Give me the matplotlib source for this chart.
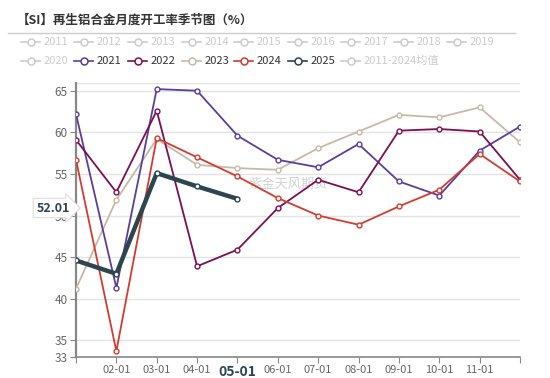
import matplotlib.pyplot as plt
from matplotlib.lines import Line2D

plt.rcParams['font.family'] = ['Noto Sans CJK SC', 'DejaVu Sans']

# data
months = ['01-01', '02-01', '03-01', '04-01', '05-01', '06-01',
          '07-01', '08-01', '09-01', '10-01', '11-01', '12-01']
y2021 = [62.2, 41.3, 65.2, 65.0, 59.6, 56.7, 55.8, 58.6, 54.1, 52.4, 57.8, 60.7]
y2022 = [59.1, 52.8, 62.6, 43.9, 45.9, 50.9, 54.3, 52.8, 60.2, 60.4, 60.1, 54.3]
y2023 = [41.2, 51.9, 59.2, 56.1, 55.7, 55.5, 58.1, 60.1, 62.1, 61.8, 63.0, 58.8]
y2024 = [56.7, 33.7, 59.3, 57.0, 54.7, 52.1, 50.0, 48.9, 51.1, 53.1, 57.4, 54.1]
y2025 = [44.6, 43.0, 55.1, 53.5, 52.01]
yticks = [33, 35, 40, 45, 50, 55, 60, 65]

legend_row1 = ['2011', '2012', '2013', '2014', '2015', '2016', '2017', '2018', '2019']
legend_row2 = ['2020', '2021', '2022', '2023', '2024', '2025', '2011-2024均值']

colors = {'2021': '#5a3e9c', '2022': '#7b0f52', '2023': '#c8b9a6',
          '2024': '#d43a2f', '2025': '#2c4550'}
inactive = '#cccccc'

W, H = 550, 378
fig = plt.figure(figsize=(W / 100, H / 100), dpi=100)

def fx(px):
    return px / W

def fy(py):
    return 1 - py / H

ax = fig.add_axes([fx(76), fy(357), fx(520) - fx(76), fy(83) - fy(357)])

x = list(range(12))
series = [('2023', y2023), ('2021', y2021), ('2022', y2022), ('2024', y2024)]
for name, vals in series:
    ax.plot(x[:len(vals)], vals, color=colors[name], lw=1.3, marker='o',
            markersize=3.5, markerfacecolor='white', markeredgecolor=colors[name],
            markeredgewidth=1, zorder=3)
ax.plot(x[:len(y2025)], y2025, color=colors['2025'], lw=3.2, marker='o',
        markersize=3.5, markerfacecolor='white', markeredgecolor=colors['2025'],
        markeredgewidth=1, zorder=4)

ax.set_xlim(0, 11)
ax.set_ylim(33, 65.93)
ax.set_yticks(yticks)
ax.set_yticklabels([str(v) for v in yticks])
ax.set_xticks(x)
labels = ['' if i in (0, 11) else m for i, m in enumerate(months)]
ax.set_xticklabels(labels)
for i, lab in enumerate(ax.get_xticklabels()):
    if i == 4:
        lab.set_fontweight('bold')
        lab.set_color('#2c4550')
        lab.set_fontsize(10)
    else:
        lab.set_color('#666666')
        lab.set_fontsize(8)
for lab in ax.get_yticklabels():
    lab.set_color('#666666')
    lab.set_fontsize(8.5)

for v in yticks[1:] + [65.93]:
    ax.axhline(v, color='#e3e3e3', lw=1, zorder=0)

for s in ['top', 'right']:
    ax.spines[s].set_visible(False)
ax.spines['left'].set_color('#888888')
ax.spines['left'].set_linewidth(1.6)
ax.spines['bottom'].set_color('#888888')
ax.spines['bottom'].set_linewidth(1.2)
ax.tick_params(axis='y', length=4, color='#888888', pad=2)
ax.tick_params(axis='x', length=4, color='#888888', pad=2)

# watermark
ax.text(5.25, 53.7, '紫金天风期货', color='#d3d3d3', fontsize=9.5,
        ha='center', va='center', zorder=2)

# current value label (covers the "50" tick label, as in the original)
fig.text(fx(53), fy(208), '52.01', fontsize=9, fontweight='bold',
         color='#2c4550', ha='center', va='center', zorder=10,
         bbox=dict(boxstyle='rarrow,pad=0.25', fc='white', ec='#dddddd', lw=0.8))

# title
fig.text(fx(17), fy(20), '【SI】再生铝合金月度开工率季节图（%）', fontsize=9,
         fontweight='bold', color='#333333', ha='left', va='center')
fig.add_artist(Line2D([fx(8), fx(515)], [fy(33), fy(33)], color='#cccccc', lw=1))

# legend
row_x = [21, 74, 128, 182, 234, 288, 341, 394, 447]
for row, yy in ((legend_row1, 42), (legend_row2, 61)):
    for name, px in zip(row, row_x):
        c = colors.get(name, inactive)
        tc = '#333333' if name in colors else inactive
        fig.add_artist(Line2D([fx(px), fx(px + 19)], [fy(yy), fy(yy)], color=c, lw=1.2))
        fig.add_artist(Line2D([fx(px + 9.5)], [fy(yy)], color=c, marker='o',
                              markersize=5, markerfacecolor='white',
                              markeredgewidth=1.1))
        fig.text(fx(px + 23), fy(yy), name, fontsize=8, color=tc,
                 ha='left', va='center')

fig.savefig('out.png', dpi=100)
